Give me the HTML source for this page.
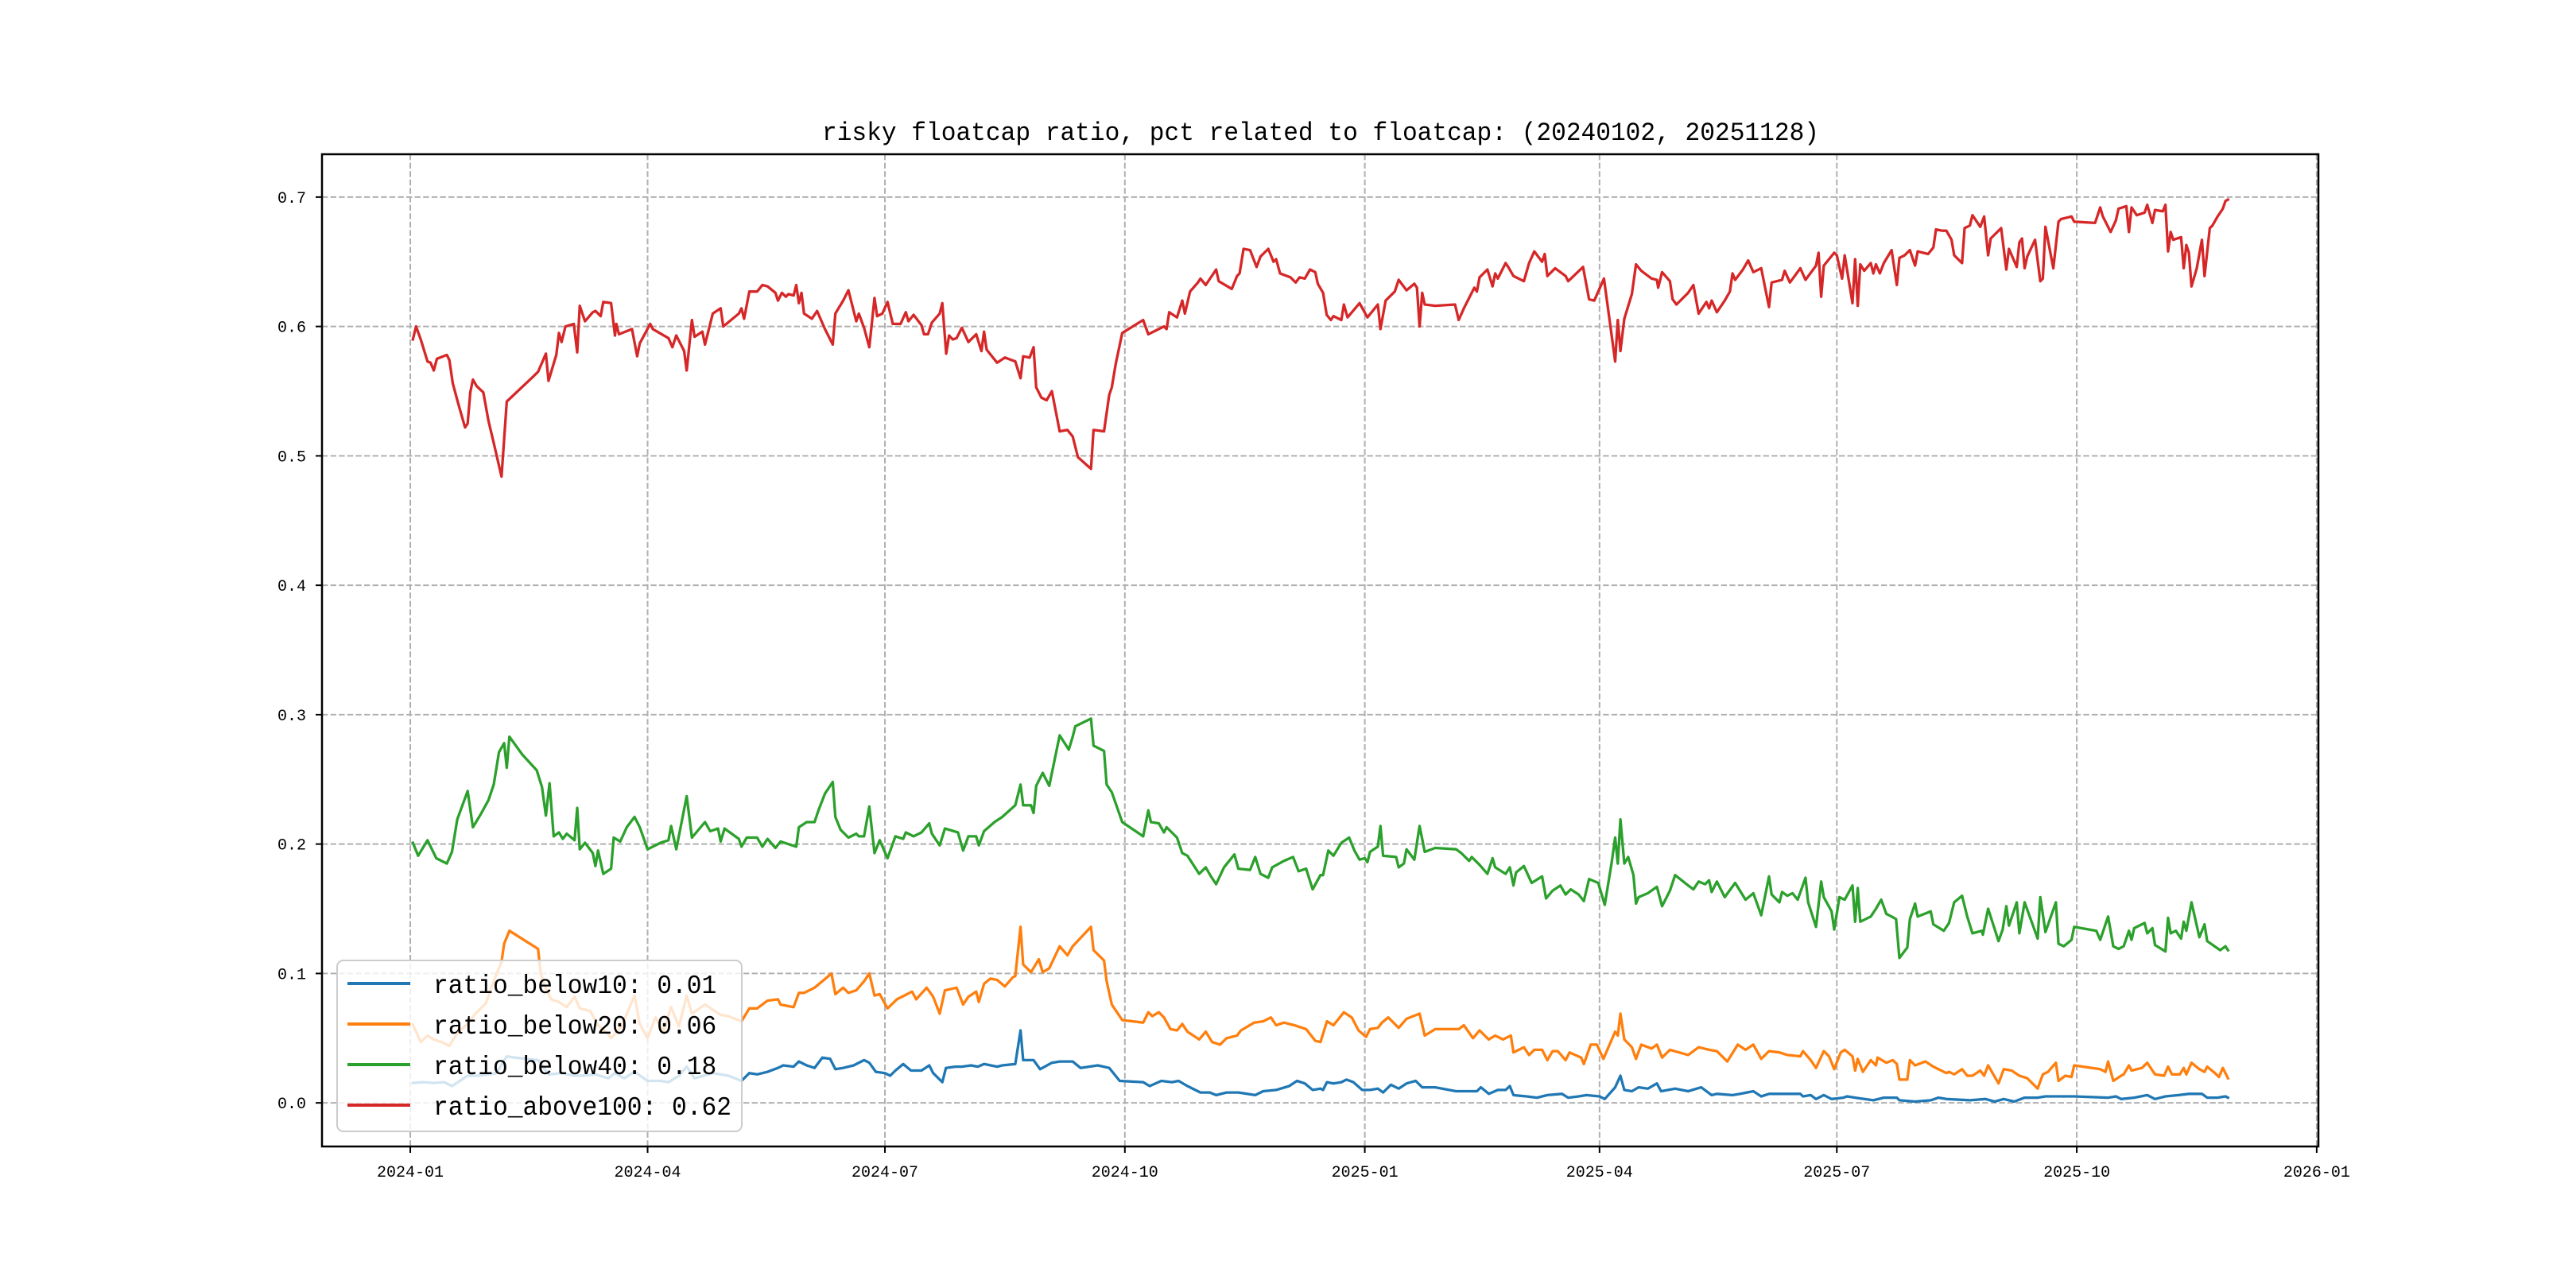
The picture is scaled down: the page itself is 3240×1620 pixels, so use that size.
<!DOCTYPE html>
<html><head><meta charset="utf-8"><style>
html,body{margin:0;padding:0;background:#fff;}
svg{display:block;}
text{font-family:"Liberation Mono","Noto Sans CJK SC",monospace;fill:#000;}
</style></head><body>
<svg id="chart" width="3240" height="1620" viewBox="0 0 3240 1620" xmlns="http://www.w3.org/2000/svg">
<rect x="0" y="0" width="3240" height="1620" fill="#fff"/>
<text x="1661" y="176" font-size="32" text-anchor="middle" textLength="1254" lengthAdjust="spacingAndGlyphs">risky floatcap ratio, pct related to floatcap: (20240102, 20251128)</text>
<g id="grid"></g>
<g id="series"></g>
<rect x="405" y="194" width="2511" height="1248" fill="none" stroke="#000" stroke-width="2.5"/>
<g id="ticks"></g>
<g id="legend"></g>
</svg>
<script>
// day offsets are days since 2024-01-01
const xTickDays = [0, 91, 182, 274, 366, 456, 547, 639, 731];
const xTickLabels = ["2024-01","2024-04","2024-07","2024-10","2025-01","2025-04","2025-07","2025-10","2026-01"];
const yTickValues = [0.0, 0.1, 0.2, 0.3, 0.4, 0.5, 0.6, 0.7];
const yTickLabels = ["0.0","0.1","0.2","0.3","0.4","0.5","0.6","0.7"];
const seriesNames = ["ratio_below10","ratio_below20","ratio_below40","ratio_above100"];
const legendValues = ["0.01","0.06","0.18","0.62"];

const redDays = [1,2.2,4,6.6,7.8,9,10.2,14,15,16.3,18.3,21,22,23,24,25.4,28,30,32,35,37,47,49,52,53,56,57,58,59.5,62.7,64,65,67,70,71,73,74,77,78.5,79,80,85,87,88,92,93,99,100.5,102,105,106,108,109,112,113,116,119,120,126,127,128,130,133,135,137,140,141,142.5,144,145,147,148,149,150,151,154,156,159,162,163,166,168,171,172,174,176,178,179,181,183,185,188,190,191,193,196,197,198.5,200,203,204,205.5,206.6,208,209.5,211.5,214,217,219,220,221,225,228,232,234,235,237.5,239,240,242,244,246,249,252,254,256,261,262,266,268,269,270.5,273,281,283,286,289,290,291,294,296,297,299,302,303,305,308,309,310,315,317,318,319.5,322,324.5,326,329,331,332,333.5,337.5,339.5,341,343,345,347,348,350,351.4,353,354,357,358,359.4,364,367,371,372,374,377.5,379,382,385,386,387,388,389,393,400.6,402,404,408,409,410,413,415,416,417,420,421,423,427,429,431,434,435,436,439,443,444,449.7,452,454,457.7,462,463,464,465.5,468.4,470,472,476,478,478.5,480,483,484,485.5,490,492,494,497,498,499,501,504,506,507,508,511,513,515,518,521,522,526,527,529,533,535,539,540,541,542,546,547,549,550,553,554,555,556,557.5,560,561,562,563.5,565,568,570,571,573,575,577,578,582,584,585,587.5,589,591,592,595,596,598,599,602,603.5,605,606,610,612,613,616,617,618,619,620,623,625,626,627,630,632,633,637,638,646,648,649,652,654,655,658,659,660,662,665,666,668,669,672,673,674,675,676,679,680,681,682,683,685,687,688,690,691,693,695,696,697];
const redVals = [0.590,0.600,0.590,0.573,0.572,0.566,0.575,0.578,0.574,0.556,0.541,0.522,0.525,0.549,0.559,0.554,0.549,0.527,0.510,0.484,0.542,0.561,0.565,0.579,0.558,0.578,0.595,0.588,0.600,0.602,0.580,0.616,0.604,0.611,0.612,0.608,0.619,0.618,0.593,0.602,0.594,0.598,0.577,0.587,0.602,0.598,0.591,0.584,0.593,0.581,0.566,0.605,0.592,0.596,0.586,0.610,0.614,0.600,0.610,0.614,0.606,0.627,0.627,0.632,0.631,0.626,0.620,0.626,0.623,0.625,0.624,0.632,0.618,0.626,0.610,0.606,0.612,0.598,0.586,0.610,0.620,0.628,0.604,0.610,0.599,0.584,0.622,0.608,0.610,0.619,0.602,0.602,0.611,0.604,0.609,0.601,0.594,0.594,0.603,0.610,0.618,0.579,0.593,0.590,0.591,0.599,0.588,0.594,0.581,0.596,0.582,0.572,0.576,0.573,0.560,0.577,0.576,0.584,0.553,0.545,0.543,0.550,0.519,0.520,0.515,0.499,0.490,0.520,0.519,0.547,0.553,0.571,0.595,0.605,0.594,0.597,0.600,0.598,0.611,0.607,0.620,0.610,0.627,0.634,0.637,0.632,0.641,0.644,0.635,0.629,0.639,0.641,0.660,0.659,0.646,0.654,0.660,0.650,0.652,0.641,0.638,0.634,0.638,0.637,0.644,0.642,0.633,0.626,0.609,0.605,0.608,0.605,0.617,0.607,0.618,0.607,0.617,0.598,0.620,0.627,0.636,0.628,0.633,0.630,0.600,0.626,0.617,0.616,0.617,0.605,0.614,0.630,0.627,0.638,0.644,0.631,0.641,0.637,0.649,0.646,0.639,0.635,0.649,0.658,0.650,0.656,0.639,0.645,0.639,0.635,0.646,0.621,0.620,0.637,0.573,0.605,0.581,0.606,0.625,0.648,0.643,0.637,0.636,0.630,0.642,0.635,0.621,0.617,0.626,0.632,0.610,0.619,0.614,0.620,0.611,0.620,0.627,0.641,0.636,0.644,0.651,0.642,0.645,0.615,0.634,0.636,0.643,0.634,0.645,0.636,0.647,0.657,0.623,0.647,0.657,0.655,0.637,0.655,0.618,0.652,0.616,0.648,0.643,0.649,0.641,0.648,0.641,0.649,0.659,0.632,0.653,0.655,0.659,0.647,0.658,0.656,0.661,0.675,0.674,0.674,0.667,0.655,0.649,0.676,0.678,0.686,0.677,0.685,0.655,0.668,0.676,0.644,0.660,0.646,0.665,0.668,0.645,0.654,0.667,0.635,0.637,0.677,0.645,0.681,0.683,0.685,0.681,0.680,0.692,0.685,0.673,0.682,0.691,0.693,0.673,0.692,0.686,0.688,0.694,0.680,0.690,0.689,0.694,0.658,0.673,0.667,0.669,0.645,0.663,0.657,0.631,0.645,0.667,0.639,0.676,0.678,0.685,0.691,0.697,0.698];

const greenDays = [1,3,6.6,10,14,16,18,22,24,27,30,32,34,36,37,38,43,48.5,50.5,52,53.4,55,57,58.5,60,63,64,65,67,70,71,72,74,77,78,80.5,83,86,88,91,96,99,100,102,106,108,113,115,118,119,120.5,126,127,129,133,135,137,140,142,148,149,152,155,156.5,159,162,163,165,168,171,172,174,176,178,180,183,186,189,190,193,196,199,200,203,205,210,212,214,217,218,220,224,227,232,234,235,238,239,240,242.5,245,249,252.5,254,255,261,262,266,267,269,273,281,283,284,287,289,290,294,296,298,302.5,305,307,309,312,316,317.5,322,324,326,329,330.5,335,338.5,340.6,343.5,346,349,350,352,354,357,360,362,364,366,367,368,371,372,373,378,379,381,382,385,387,389,393,401,403,406,407,410,413,415,416,420,421.6,423,424,427,430,434,435.5,438,441,443,445,448,450,452,455.5,458,460.6,462,463,464,465.5,467,469,470,471,474.5,478,480,483,485,490,492,494,496.5,498,499,501,504,508,512,515,518,521,522,525,526,528,530,532,535,536,539,541,542,545,546,548,550,553,554,555,556,560,562,564,566,568,569.7,571,574,575,577,578,583,584,588,590,592,595,597,599,602.6,603,605,609,610.6,612,613,616,617,619,624,625,627,631,632,634,637,638,646.5,648,651,653,655,657,659,660,661,665,666,668,669,673,674,675,677,679,680,681,683,686,688,689,694,696,697];
const greenVals = [0.201,0.191,0.203,0.189,0.185,0.194,0.219,0.241,0.213,0.223,0.234,0.246,0.271,0.278,0.259,0.283,0.269,0.257,0.244,0.222,0.247,0.206,0.209,0.204,0.208,0.203,0.228,0.196,0.201,0.193,0.183,0.195,0.177,0.181,0.205,0.202,0.213,0.221,0.213,0.196,0.201,0.203,0.214,0.196,0.237,0.205,0.217,0.210,0.212,0.202,0.212,0.204,0.198,0.205,0.205,0.198,0.204,0.197,0.202,0.198,0.213,0.217,0.217,0.226,0.239,0.248,0.221,0.211,0.205,0.208,0.206,0.206,0.229,0.193,0.203,0.189,0.206,0.204,0.209,0.206,0.209,0.216,0.208,0.199,0.212,0.209,0.195,0.206,0.206,0.199,0.210,0.217,0.221,0.230,0.246,0.230,0.230,0.224,0.245,0.255,0.245,0.284,0.273,0.283,0.291,0.297,0.276,0.272,0.246,0.240,0.217,0.206,0.226,0.217,0.216,0.209,0.213,0.205,0.193,0.191,0.177,0.182,0.175,0.169,0.182,0.192,0.181,0.180,0.190,0.177,0.174,0.182,0.187,0.190,0.179,0.181,0.165,0.176,0.176,0.195,0.191,0.201,0.205,0.195,0.188,0.189,0.186,0.194,0.198,0.214,0.191,0.190,0.182,0.185,0.196,0.188,0.214,0.194,0.197,0.196,0.193,0.187,0.190,0.184,0.177,0.189,0.182,0.177,0.182,0.168,0.178,0.183,0.170,0.175,0.158,0.164,0.168,0.161,0.165,0.161,0.156,0.173,0.170,0.153,0.185,0.205,0.185,0.219,0.185,0.190,0.176,0.154,0.159,0.162,0.167,0.152,0.164,0.176,0.168,0.165,0.171,0.169,0.172,0.163,0.171,0.159,0.170,0.157,0.162,0.145,0.175,0.161,0.155,0.163,0.160,0.162,0.157,0.174,0.155,0.136,0.171,0.159,0.148,0.134,0.159,0.157,0.168,0.140,0.166,0.140,0.144,0.150,0.157,0.146,0.144,0.142,0.112,0.120,0.142,0.154,0.144,0.148,0.138,0.133,0.139,0.155,0.160,0.144,0.131,0.133,0.130,0.150,0.125,0.134,0.152,0.137,0.155,0.131,0.155,0.127,0.159,0.132,0.155,0.123,0.121,0.126,0.136,0.133,0.126,0.144,0.121,0.119,0.121,0.133,0.126,0.135,0.139,0.131,0.135,0.122,0.117,0.143,0.131,0.133,0.127,0.140,0.133,0.155,0.128,0.138,0.125,0.118,0.121,0.118];

const orangeDays = [1,4,6.6,9,12,15,18,22,25,29,32,35,36,38,49,50,52,54,57,60,63,65,69,72,76,77,81,86,88,91,94,97,100,103,106,108,113,119,122,127,130,133,137,141,142,147,149,151,155,158,161.5,163,166,168,171,174,176,178,180,183,186.6,189.5,192.4,194,198,200.5,203,205,209.5,212,214,217,218,220,222.4,225,228,231,232,234,235,238,241,242.5,245,249,252,254,261,262,266,267,269,273,281,283,284.5,287,289,291.5,294,296,298,302.5,305,307.5,310.5,313,317,318.5,323.6,327,330,332,335,339,343.5,347,349,351.5,354,358,361,363.6,366.5,368,371,372.6,375,379,382,387,389,393,402,404,407.5,410,413.5,416,419,422,423,427,429,431,434,436,438,440,443,444.5,449,450,452.6,455,457.5,462,463,464,465.5,468.4,470,472,476,478,480,483,490,494,498,501,505,509,512,515,518,521,525,528,533,534,537,539,542,544,546,548.5,550,553,554,555,557,560,562,562.6,566,568.5,570,571,574,575,577,581,584,589,590,592,595,597,599,602,603.5,605,609,611,614,617,620,624,626,628,631,632,634.6,637,638,648,650,651,653,656,657,659,660,664,666,669,672.5,674,675.5,678.5,680,681,683,686,688,689,692,693.5,695,697];
const orangeVals = [0.0605,0.047,0.052,0.049,0.047,0.044,0.054,0.061,0.069,0.077,0.094,0.109,0.123,0.133,0.119,0.100,0.088,0.080,0.078,0.074,0.082,0.073,0.071,0.060,0.053,0.050,0.059,0.083,0.061,0.050,0.066,0.055,0.074,0.059,0.083,0.069,0.076,0.068,0.067,0.063,0.073,0.073,0.079,0.080,0.076,0.074,0.085,0.085,0.089,0.094,0.100,0.084,0.089,0.085,0.087,0.094,0.100,0.083,0.084,0.073,0.080,0.083,0.086,0.080,0.089,0.082,0.069,0.087,0.089,0.076,0.082,0.086,0.078,0.092,0.096,0.095,0.090,0.097,0.098,0.136,0.107,0.101,0.111,0.101,0.104,0.121,0.114,0.121,0.136,0.118,0.110,0.094,0.076,0.064,0.062,0.070,0.067,0.070,0.066,0.057,0.056,0.061,0.055,0.049,0.055,0.047,0.045,0.050,0.052,0.056,0.062,0.063,0.066,0.060,0.062,0.060,0.057,0.048,0.047,0.063,0.060,0.070,0.066,0.056,0.051,0.057,0.058,0.062,0.066,0.058,0.065,0.069,0.052,0.057,0.057,0.060,0.050,0.056,0.049,0.052,0.049,0.052,0.039,0.043,0.037,0.041,0.041,0.033,0.040,0.040,0.033,0.039,0.035,0.030,0.045,0.045,0.034,0.055,0.052,0.069,0.049,0.043,0.034,0.045,0.042,0.045,0.035,0.041,0.037,0.043,0.041,0.040,0.032,0.045,0.041,0.045,0.034,0.040,0.039,0.037,0.036,0.040,0.033,0.027,0.040,0.036,0.026,0.039,0.041,0.036,0.025,0.034,0.024,0.033,0.029,0.035,0.031,0.033,0.030,0.018,0.018,0.033,0.029,0.032,0.028,0.023,0.024,0.022,0.026,0.021,0.021,0.025,0.021,0.029,0.015,0.026,0.025,0.021,0.019,0.011,0.022,0.024,0.031,0.017,0.021,0.020,0.029,0.026,0.024,0.032,0.017,0.021,0.022,0.029,0.025,0.027,0.031,0.022,0.021,0.028,0.022,0.022,0.027,0.022,0.031,0.026,0.024,0.028,0.023,0.020,0.027,0.019];

const blueDays = [1,5,9,13,16,19,22,26,30,33,37,40,49,53,58,63,66,71,76,78.5,82,86,91,96,99,103,106,109,116,122,127,130,133,137,141,143,147,149,152,155,158,161,163,166,170,174,176,178.5,182,184,186,189,192,196,199,200.5,204,205.4,209,211.5,215,217.6,220,225,227,232,234,235,239,241.5,246,249,254,257,263.6,268,272,281,283.5,288,292,294.6,298,303,306.6,309,313,317.6,324,327,332,337,340,343,346,349,350,351.5,354,357,359,361.6,365,368,371,373,376,379,382,385.5,388,393,401,409,410.5,413.6,417,420,421.6,423,428,432,436,441.6,444,448,451,456,458,462,464,465.5,468.4,471,474.6,478,479.6,485,490,495,499,501,507,510,515,518,521,529,533,534,537,539,542,545,549.5,551,554,561,565,570,571,577,583,586,589,598,604,607.5,611,615,619,624,627,632,638,651,654,656,661,666,669,673,678,682,687,689,693,696,697];
const blueVals = [0.0154,0.016,0.0154,0.016,0.013,0.017,0.021,0.021,0.022,0.023,0.036,0.035,0.033,0.022,0.023,0.021,0.021,0.022,0.019,0.023,0.019,0.024,0.017,0.017,0.016,0.021,0.028,0.019,0.023,0.021,0.017,0.023,0.022,0.024,0.027,0.029,0.028,0.032,0.029,0.027,0.035,0.034,0.026,0.027,0.029,0.033,0.031,0.024,0.023,0.021,0.025,0.030,0.025,0.025,0.029,0.023,0.016,0.027,0.028,0.028,0.029,0.028,0.030,0.028,0.029,0.030,0.056,0.033,0.033,0.026,0.031,0.032,0.032,0.027,0.029,0.027,0.017,0.016,0.013,0.017,0.016,0.017,0.013,0.008,0.008,0.006,0.008,0.008,0.006,0.009,0.010,0.013,0.017,0.015,0.010,0.011,0.010,0.016,0.015,0.016,0.018,0.016,0.010,0.010,0.011,0.008,0.014,0.011,0.015,0.017,0.012,0.012,0.009,0.009,0.012,0.007,0.010,0.010,0.013,0.006,0.005,0.004,0.006,0.007,0.004,0.005,0.006,0.005,0.003,0.012,0.021,0.010,0.009,0.012,0.011,0.015,0.009,0.011,0.009,0.012,0.006,0.007,0.006,0.007,0.009,0.005,0.007,0.007,0.007,0.005,0.006,0.003,0.006,0.003,0.004,0.005,0.004,0.002,0.004,0.004,0.002,0.001,0.002,0.004,0.003,0.002,0.003,0.001,0.003,0.001,0.004,0.004,0.005,0.005,0.005,0.004,0.005,0.003,0.004,0.006,0.003,0.005,0.006,0.007,0.007,0.004,0.004,0.005,0.004];

const NS = "http://www.w3.org/2000/svg";
const AX = {left:405, right:2916, top:194, bottom:1442, dayMin:-33.85, dayMax:731.65, vMin:-0.0337, vMax:0.7331};
function xScale(d){ return AX.left + (d - AX.dayMin) / (AX.dayMax - AX.dayMin) * (AX.right - AX.left); }
function yScale(v){ return AX.bottom - (v - AX.vMin) / (AX.vMax - AX.vMin) * (AX.bottom - AX.top); }
function mk(tag, attrs, parent){ const e=document.createElementNS(NS,tag); for(const k in attrs) e.setAttribute(k, attrs[k]); parent.appendChild(e); return e; }

const grid = document.getElementById('grid');
const ticks = document.getElementById('ticks');
xTickDays.forEach((d,i)=>{
  const x = xScale(d);
  const g = mk('line',{x1:x,x2:x,y1:AX.top,y2:AX.bottom,stroke:'#b0b0b0','stroke-width':2,'stroke-dasharray':'7.4,3.2'},grid);
  
  
  const t = mk('line',{x1:x,x2:x,y1:AX.bottom,y2:AX.bottom+8,stroke:'#000','stroke-width':2},ticks);
  
  
  const lb = mk('text',{x:x,y:AX.bottom+38,'font-size':20,'text-anchor':'middle'},ticks);
  lb.textContent = xTickLabels[i];
  
  
});
yTickValues.forEach((v,i)=>{
  const y = yScale(v);
  const g = mk('line',{x1:AX.left,x2:AX.right,y1:y,y2:y,stroke:'#b0b0b0','stroke-width':2,'stroke-dasharray':'7.4,3.2'},grid);
  
  
  const t = mk('line',{x1:AX.left-8,x2:AX.left,y1:y,y2:y,stroke:'#000','stroke-width':2},ticks);
  
  
  const lb = mk('text',{x:AX.left-20,y:y+7,'font-size':20,'text-anchor':'end'},ticks);
  lb.textContent = yTickLabels[i];
  
  
});

const colors = ['#1f77b4','#ff7f0e','#2ca02c','#d62728'];
const allDays = [blueDays, orangeDays, greenDays, redDays];
const allVals = [blueVals, orangeVals, greenVals, redVals];
const seriesLayer = document.getElementById('series');
allDays.forEach((days,si)=>{
  const vals = allVals[si];
  const pts = days.map((d,i)=> xScale(d).toFixed(1)+','+yScale(vals[i]).toFixed(1)).join(' ');
  const pl = mk('polyline',{points:pts,fill:'none',stroke:colors[si],'stroke-width':3.3,'stroke-linejoin':'round','stroke-linecap':'square'},seriesLayer);
  
  
});

const legend = document.getElementById('legend');
const box = mk('rect',{x:424,y:1208,width:509,height:215,rx:8,ry:8,fill:'#fff','fill-opacity':0.8,stroke:'#cccccc','stroke-width':2},legend);


const legendY = [1237, 1288, 1339, 1390];
seriesNames.forEach((n,i)=>{
  const g = mk('g',{},legend);
  
  
  const ln = mk('line',{x1:437,x2:516,y1:legendY[i],y2:legendY[i],stroke:colors[i],'stroke-width':4},g);
  
  
  const label = n + ': ' + legendValues[i];
  const tx = mk('text',{x:545,y:legendY[i]+12,'font-size':33,textLength:(label.length*18.75).toFixed(1),lengthAdjust:'spacingAndGlyphs'},g);
  tx.textContent = label;
  
  
});
</script>
</body></html>
